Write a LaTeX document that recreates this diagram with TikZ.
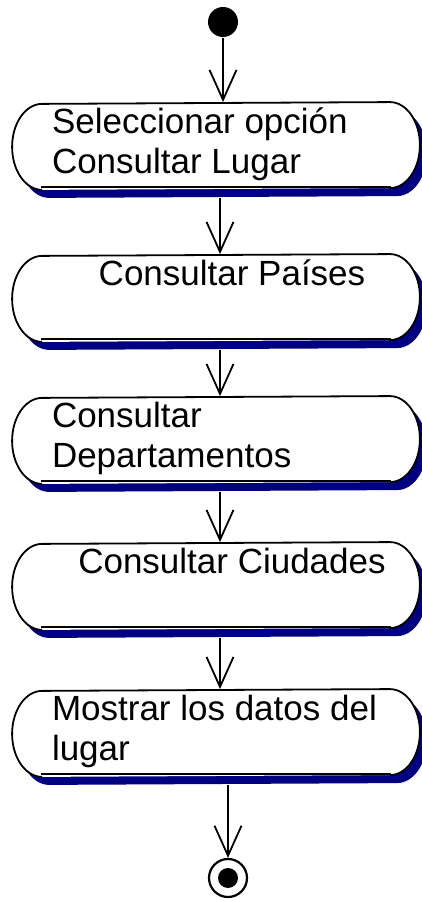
\documentclass[tikz,border=0pt]{standalone}
\usepackage{fontspec}
\setmainfont{Liberation Sans}
\usetikzlibrary{arrows.meta}
\definecolor{sombra}{RGB}{0,0,128}

\begin{document}
\begin{tikzpicture}[x=1pt,y=1pt,line width=1.8pt,
  caja/.style={draw=none,minimum width=406pt,minimum height=86pt,inner sep=0pt},
  texto/.style={font=\fontsize{35}{40}\selectfont,inner sep=0pt,align=left},
  flecha/.style={-{Straight Barb[length=30pt,width=27pt,line width=1.8pt]}}]
\useasboundingbox (0,0) rectangle (421,901);

\node[circle,fill=black,minimum size=30pt,inner sep=0pt] (ini) at (223,879) {};

\node[caja] (sel) at (216,755) {};
\node[caja] (pai) at (216,603) {};
\node[caja] (dep) at (216,461) {};
\node[caja] (ciu) at (216,315) {};
\node[caja] (mos) at (216,168) {};

\foreach \act in {sel,pai,dep,ciu,mos}{
  \fill[sombra] ([xshift=37pt,yshift=-8pt]\act.north west) -- ([xshift=-23pt,yshift=-8pt]\act.north east)
    arc[start angle=90,end angle=-90,x radius=30pt,y radius=43pt] -- ([xshift=37pt,yshift=-8pt]\act.south west)
    arc[start angle=270,end angle=90,x radius=30pt,y radius=43pt] -- cycle;
  \fill[white] ([xshift=30pt]\act.north west) -- ([xshift=-30pt]\act.north east)
    arc[start angle=90,end angle=-90,x radius=30pt,y radius=43pt] -- ([xshift=30pt]\act.south west)
    arc[start angle=270,end angle=90,x radius=30pt,y radius=43pt] -- cycle;
  \draw ([xshift=30pt]\act.south west) arc[start angle=270,end angle=90,x radius=30pt,y radius=43pt]
    -- ([xshift=-30pt]\act.north east) arc[start angle=90,end angle=-90,x radius=30pt,y radius=43pt];
  \draw ([xshift=29pt,yshift=3pt]\act.south west) -- ([xshift=-29pt,yshift=3pt]\act.south east);
}

\node[texto,anchor=base west,xshift=39pt,yshift=-71.5pt] (tsel) at (sel.north west) {Seleccionar opción\\Consultar Lugar};
\node[texto,anchor=base,xshift=16pt,yshift=-31.5pt] (tpai) at (pai.north) {Consultar Países};
\node[texto,anchor=base west,xshift=39pt,yshift=-71.5pt] (tdep) at (dep.north west) {Consultar\\Departamentos};
\node[texto,anchor=base,xshift=16pt,yshift=-31.5pt] (tciu) at (ciu.north) {Consultar Ciudades};
\node[texto,anchor=base west,xshift=39pt,yshift=-71.5pt] (tmos) at (mos.north west) {Mostrar los datos del\\lugar};

\node[circle,draw,line width=2.2pt,fill=white,minimum size=38pt,inner sep=0pt] (fin) at (228,23) {};
\fill (fin.center) circle (10pt);

\draw[flecha] (ini.south) -- (ini.south |- sel.north);
\draw[flecha] ([xshift=4pt,yshift=-8pt]sel.south) -- ([xshift=4pt]pai.north);
\draw[flecha] ([xshift=4pt,yshift=-8pt]pai.south) -- ([xshift=4pt]dep.north);
\draw[flecha] ([xshift=4pt,yshift=-8pt]dep.south) -- ([xshift=4pt]ciu.north);
\draw[flecha] ([xshift=4pt,yshift=-8pt]ciu.south) -- ([xshift=4pt]mos.north);
\draw[flecha] ([xshift=12pt,yshift=-8pt]mos.south) -- (fin.north);

\end{tikzpicture}
\end{document}
